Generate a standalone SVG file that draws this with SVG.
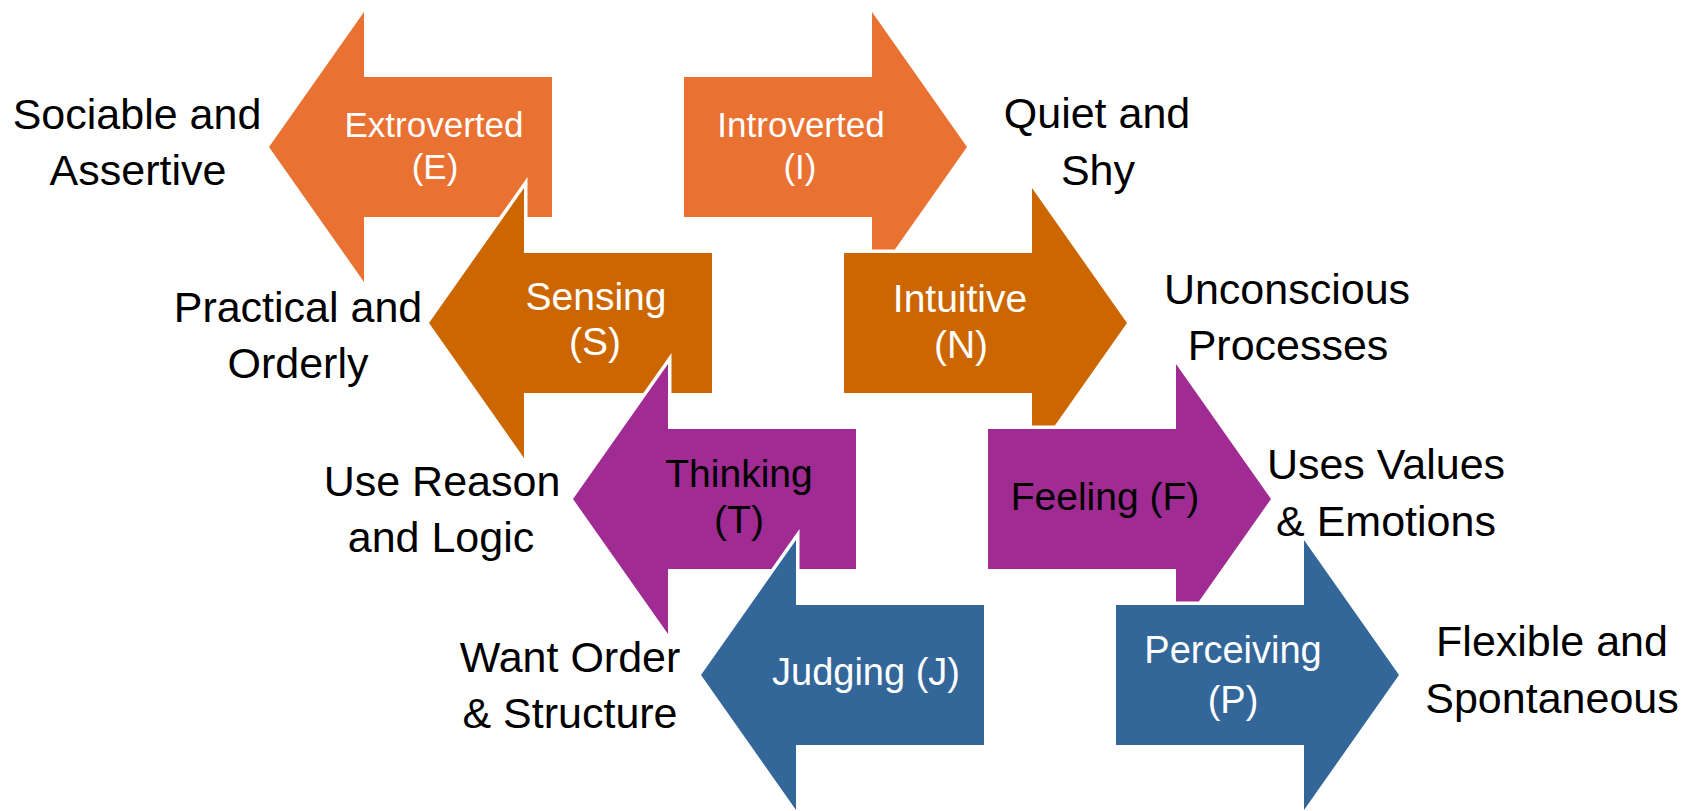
<svg xmlns="http://www.w3.org/2000/svg" width="1698" height="811" viewBox="0 0 1698 811">
  <style>
    .arrow { stroke: #FFFFFF; stroke-width: 7; stroke-linejoin: miter; paint-order: stroke; }
    .c1 { fill: #E97132; }
    .c2 { fill: #CC6600; }
    .c3 { fill: #A02B93; }
    .c4 { fill: #336699; }
    text { font-family: "Liberation Sans", Arial, sans-serif; text-anchor: middle; }
    .in1 { font-size: 35px; fill: #FFFFFF; }
    .in2 { font-size: 39px; fill: #FFFFFF; }
    .in3 { font-size: 39px; fill: #000000; }
    .in4 { font-size: 38px; fill: #FFFFFF; }
    .out { font-size: 43px; fill: #000000; }
  </style>
  <rect width="1698" height="811" fill="#FFFFFF"/>

  <!-- left-pointing arrows, drawn top to bottom so each overlaps the one above -->
  <g id="extroverted">
    <polygon class="arrow c1" points="269,147 364,12 364,77 552,77 552,217 364,217 364,282"/>
    <text class="in1" x="434" y="137">Extroverted</text>
    <text class="in1" x="435" y="179">(E)</text>
  </g>
  <g id="sensing">
    <polygon class="arrow c2" points="429,323 524,188 524,253 712,253 712,393 524,393 524,458"/>
    <text class="in2" x="596" y="310">Sensing</text>
    <text class="in2" x="595" y="355">(S)</text>
  </g>
  <g id="thinking">
    <polygon class="arrow c3" points="573,499 668,364 668,429 856,429 856,569 668,569 668,634"/>
    <text class="in3" x="739" y="487">Thinking</text>
    <text class="in3" x="739" y="533">(T)</text>
  </g>
  <g id="judging">
    <polygon class="arrow c4" points="701,675 796,540 796,605 984,605 984,745 796,745 796,810"/>
    <text class="in4" x="866" y="685">Judging (J)</text>
  </g>

  <!-- right-pointing arrows -->
  <g id="introverted">
    <polygon class="arrow c1" points="684,77 872,77 872,12 967,147 872,282 872,217 684,217"/>
    <text class="in1" x="801" y="137">Introverted</text>
    <text class="in1" x="800" y="179">(I)</text>
  </g>
  <g id="intuitive">
    <polygon class="arrow c2" points="844,253 1032,253 1032,188 1127,323 1032,458 1032,393 844,393"/>
    <text class="in2" x="960" y="312">Intuitive</text>
    <text class="in2" x="961" y="358">(N)</text>
  </g>
  <g id="feeling">
    <polygon class="arrow c3" points="988,429 1176,429 1176,364 1271,499 1176,634 1176,569 988,569"/>
    <text class="in3" x="1105" y="510">Feeling (F)</text>
  </g>
  <g id="perceiving">
    <polygon class="arrow c4" points="1116,605 1304,605 1304,540 1399,675 1304,810 1304,745 1116,745"/>
    <text class="in4" x="1233" y="663">Perceiving</text>
    <text class="in4" x="1233" y="713">(P)</text>
  </g>

  <!-- trait descriptions beside the arrow tips -->
  <g id="desc-e">
    <text class="out" x="137" y="129">Sociable and</text>
    <text class="out" x="138" y="185">Assertive</text>
  </g>
  <g id="desc-i">
    <text class="out" x="1097" y="128">Quiet and</text>
    <text class="out" x="1098" y="185">Shy</text>
  </g>
  <g id="desc-s">
    <text class="out" x="298" y="322">Practical and</text>
    <text class="out" x="298" y="378">Orderly</text>
  </g>
  <g id="desc-n">
    <text class="out" x="1287" y="304">Unconscious</text>
    <text class="out" x="1288" y="360">Processes</text>
  </g>
  <g id="desc-t">
    <text class="out" x="442" y="496">Use Reason</text>
    <text class="out" x="441" y="552">and Logic</text>
  </g>
  <g id="desc-f">
    <text class="out" x="1386" y="479">Uses Values</text>
    <text class="out" x="1386" y="536">&amp; Emotions</text>
  </g>
  <g id="desc-j">
    <text class="out" x="570" y="672">Want Order</text>
    <text class="out" x="570" y="728">&amp; Structure</text>
  </g>
  <g id="desc-p">
    <text class="out" x="1552" y="656">Flexible and</text>
    <text class="out" x="1552" y="713">Spontaneous</text>
  </g>

  <g id="connectors"/>
</svg>
